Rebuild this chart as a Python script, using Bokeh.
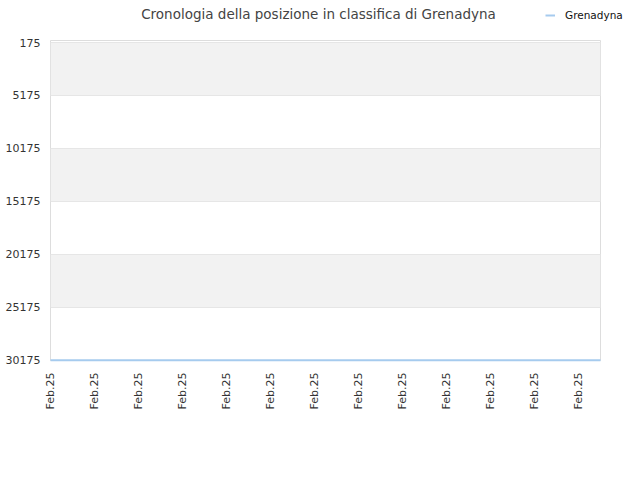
import math
from bokeh.plotting import figure
from bokeh.layouts import column
from bokeh.models import Range1d, FixedTicker, Legend, LegendItem, Label
from bokeh.embed import file_html
from bokeh.resources import INLINE

# ---- data ----
days = list(range(0, 26))
positions = [30175] * 26
x_tick_positions = [0, 2, 4, 6, 8, 10, 12, 14, 16, 18, 20, 22, 24]
x_tick_labels = ["Feb.25"] * 13
y_ticks = [175, 5175, 10175, 15175, 20175, 25175, 30175]
series_name = "Grenadyna"
title_text = "Cronologia della posizione in classifica di Grenadyna"

LINE_COLOR = "#a6cbee"

# ---- header strip: title + legend ----
head = figure(width=632, height=30, output_backend="svg", toolbar_location=None,
              x_range=Range1d(0, 632), y_range=Range1d(0, 30),
              x_axis_type=None, y_axis_type=None, min_border=0,
              min_border_left=0, min_border_right=0, min_border_top=0, min_border_bottom=0)
head.outline_line_color = None
head.xgrid.visible = False
head.ygrid.visible = False

unaligned = "frame_align" in head.properties()
if unaligned:
    head.frame_align = False
    x_off = 0
else:
    x_off = 50

head.add_layout(Label(x=318 - x_off, y=17, x_units="screen", y_units="screen", text=title_text,
                      text_align="center", text_baseline="middle",
                      text_font="DejaVu Sans", text_font_size="13.5px",
                      text_color="#444444"))
# series proxy for the legend key (its values lie outside this strip's range)
legend_line = head.line(days, positions, line_color=LINE_COLOR, line_width=2)
legend = Legend(items=[LegendItem(label=series_name, renderers=[legend_line])],
                location=(545 - x_off if unaligned else 490, 9), border_line_color=None,
                background_fill_alpha=0, label_text_font="DejaVu Sans",
                label_text_font_size="10.5px", label_text_color="#111111",
                glyph_width=10, glyph_height=10, padding=0, margin=0,
                label_standoff=10, label_height=12)
head.add_layout(legend)

# ---- main chart ----
p = figure(width=632, height=442, output_backend="svg", toolbar_location=None,
           x_range=Range1d(0, 25), y_range=Range1d(30210, -20),
           min_border_left=50, min_border_right=32, min_border_top=10,
           min_border_bottom=112)
if unaligned:
    p.frame_align = False

p.outline_line_color = "#dddddd"
p.background_fill_color = "white"
p.border_fill_color = "white"

p.line(days, positions, line_color=LINE_COLOR, line_width=2, level="overlay")

for ax in (p.xaxis[0], p.yaxis[0]):
    ax.major_tick_out = 0
    ax.major_tick_in = 0
    ax.minor_tick_out = 0
    ax.minor_tick_in = 0
    ax.major_tick_line_color = None
    ax.minor_tick_line_color = None
    ax.major_label_text_font = "DejaVu Sans"
    ax.major_label_text_font_size = "11px"
    ax.major_label_text_color = "#333333"

p.yaxis.ticker = FixedTicker(ticks=y_ticks)
p.yaxis.axis_line_color = None
p.yaxis.major_label_standoff = 10

p.xaxis.ticker = FixedTicker(ticks=x_tick_positions)
p.xaxis.major_label_overrides = {t: l for t, l in zip(x_tick_positions, x_tick_labels)}
p.xaxis.major_label_orientation = math.pi / 2
p.xaxis.axis_line_color = None
p.xaxis.major_label_standoff = 12

p.xgrid.grid_line_color = None
p.ygrid.grid_line_color = "#e6e6e6"
p.ygrid.band_fill_color = "#f2f2f2"
p.ygrid.band_fill_alpha = 1.0

layout = column(head, p, spacing=0)
open("out.html", "w").write(file_html(layout, INLINE))
